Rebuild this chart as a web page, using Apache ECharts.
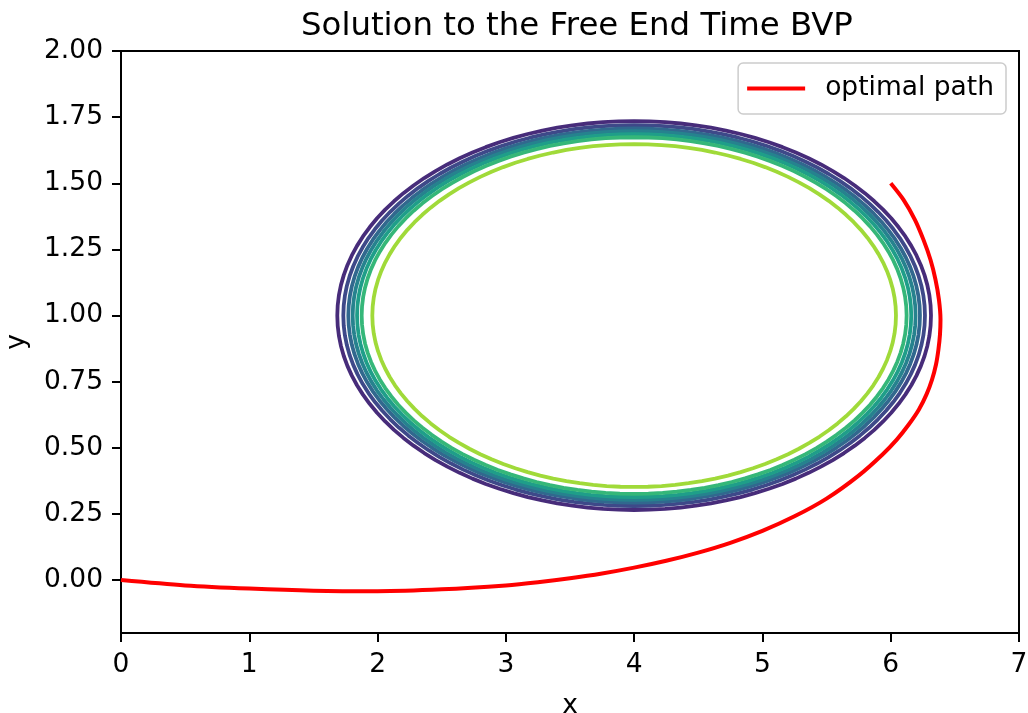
<!DOCTYPE html>
<html>
<head>
<meta charset="utf-8">
<script src="https://cdn.jsdelivr.net/npm/echarts@6/dist/echarts.min.js"></script>
<style>
html,body{margin:0;padding:0;background:#fff;}
#chart{width:1028px;height:713px;}
</style>
</head>
<body>
<div id="chart"></div>
<script>
// ---- data ----
const xTicks = [0, 1, 2, 3, 4, 5, 6, 7];
const yTicks = [0, 0.25, 0.5, 0.75, 1.0, 1.25, 1.5, 1.75, 2.0];

// optimal path (x, y)
const pathX = [0, 0.5, 1.0, 1.5, 2.0, 2.5, 3.0, 3.25, 3.5, 3.75, 4.0, 4.25, 4.5, 4.75, 5.0, 5.25, 5.5, 5.75, 5.936, 6.049, 6.142, 6.220, 6.279, 6.322, 6.353, 6.372, 6.384, 6.388, 6.376, 6.349, 6.310, 6.255, 6.189, 6.099, 6.0];
const pathY = [0, -0.020, -0.032, -0.040, -0.042, -0.035, -0.020, -0.008, 0.007, 0.025, 0.047, 0.073, 0.104, 0.141, 0.186, 0.241, 0.308, 0.395, 0.475, 0.532, 0.589, 0.645, 0.702, 0.758, 0.815, 0.872, 0.928, 0.985, 1.060, 1.136, 1.211, 1.287, 1.362, 1.438, 1.50];

// contour levels: elliptical contours centred at (4, 1), outer to inner
const contourCenterX = 4.0;
const contourCenterY = 1.0;
const contourSemiX = [2.314, 2.267, 2.228, 2.194, 2.160, 2.124, 2.041];
const contourSemiY = [0.735, 0.720, 0.707, 0.697, 0.686, 0.674, 0.648];
const contourColors = ['#472c7a', '#3e4989', '#31688e', '#26828e', '#1f9e89', '#35b779', '#a0da39'];

// ---- build series ----
const FONT = 'DejaVu Sans';
const series = [];
contourSemiX.forEach((a, i) => {
  const b = contourSemiY[i];
  const pts = [];
  const n = 120;
  for (let k = 0; k <= n; k++) {
    const t = 2 * Math.PI * k / n;
    pts.push([contourCenterX + a * Math.cos(t), contourCenterY + b * Math.sin(t)]);
  }
  series.push({
    type: 'line', data: pts, showSymbol: false, symbol: 'none', silent: true,
    lineStyle: { color: contourColors[i], width: 3.8 }, z: 2, animation: false
  });
});
series.push({
  name: 'optimal path', type: 'line',
  data: pathX.map((x, i) => [x, pathY[i]]),
  showSymbol: false, symbol: 'none', smooth: 0.3,
  lineStyle: { color: '#ff0000', width: 4 }, itemStyle: { color: '#ff0000' },
  z: 5, animation: false
});

const chart = echarts.init(document.getElementById('chart'), null, { renderer: 'canvas' });
chart.setOption({
  backgroundColor: '#ffffff',
  animation: false,
  title: {
    text: 'Solution to the Free End Time BVP',
    left: 296, top: 6,
    textStyle: { fontFamily: FONT, fontSize: 32.4, fontWeight: 'normal', color: '#000' }
  },
  legend: {
    data: ['optimal path'],
    right: 22, top: 63,
    padding: [12, 12, 12, 9],
    icon: 'rect', itemWidth: 58, itemHeight: 4,
    backgroundColor: '#fff',
    borderColor: '#cccccc', borderWidth: 1.5, borderRadius: 5,
    textStyle: { fontFamily: FONT, fontSize: 26.5, color: '#000', padding: [0, 0, 0, 15] }
  },
  grid: {
    left: 121, right: 9, top: 51, bottom: 80,
    outerBoundsMode: 'none', containLabel: false,
    show: true, borderColor: '#000', borderWidth: 2, backgroundColor: 'transparent'
  },
  xAxis: {
    type: 'value', min: 0, max: 7, interval: 1,
    name: 'x', nameLocation: 'middle', nameGap: 60,
    nameTextStyle: { fontFamily: FONT, fontSize: 26.5, color: '#000' },
    axisLine: { show: true, onZero: false, lineStyle: { color: '#000', width: 2 } },
    axisTick: { show: true, length: 9, lineStyle: { color: '#000', width: 2 } },
    axisLabel: { fontFamily: FONT, fontSize: 26.5, color: '#000', margin: 19,
      customValues: xTicks, formatter: v => String(v) },
    splitLine: { show: false }
  },
  yAxis: {
    type: 'value', min: -0.2, max: 2.0,
    name: 'y', nameLocation: 'middle', nameGap: 90,
    nameTextStyle: { fontFamily: FONT, fontSize: 26.5, color: '#000' },
    axisLine: { show: true, onZero: false, lineStyle: { color: '#000', width: 2 } },
    axisTick: { show: true, length: 9, lineStyle: { color: '#000', width: 2 }, customValues: yTicks },
    axisLabel: { fontFamily: FONT, fontSize: 26.5, color: '#000', margin: 18,
      customValues: yTicks, formatter: v => Number(v).toFixed(2) },
    splitLine: { show: false }
  },
  series: series
});
</script>
</body>
</html>
